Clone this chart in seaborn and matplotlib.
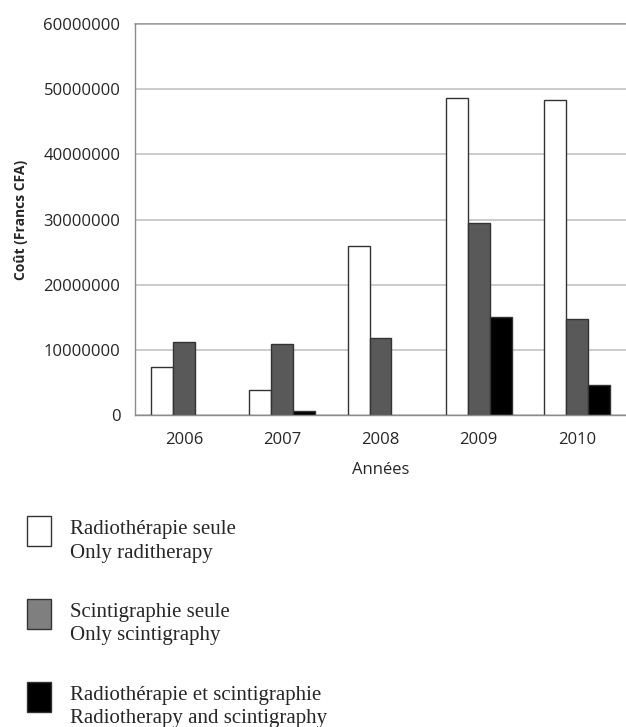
import matplotlib
matplotlib.use("Agg")
import matplotlib.pyplot as plt
import seaborn as sns
import pandas as pd
from matplotlib.ticker import FixedLocator
from matplotlib.legend_handler import HandlerPatch
from matplotlib.patches import Rectangle

years = ["2006", "2007", "2008", "2009", "2010"]
radio_only = [7400000, 3800000, 26000000, 48600000, 48400000]
scinti_only = [11250000, 10900000, 11800000, 29400000, 14700000]
radio_scinti = [0, 660000, 0, 15100000, 4600000]
series_labels = [
    "Radiothérapie seule\nOnly raditherapy",
    "Scintigraphie seule\nOnly scintigraphy",
    "Radiothérapie et scintigraphie\nRadiotherapy and scintigraphy",
]
colors = ["#ffffff", "#595959", "#000000"]

rows = []
for lab, vals in zip(series_labels, [radio_only, scinti_only, radio_scinti]):
    for y, v in zip(years, vals):
        rows.append({"Année": y, "Coût": v, "Série": lab})
df = pd.DataFrame(rows)

sns.set_style("white")
plt.rcParams["font.family"] = ["Open Sans", "DejaVu Sans"]

fig = plt.figure(figsize=(6.26, 7.27), dpi=100)
ax = fig.add_axes([135/626, 1-415/727, 1-135/626, (415-24)/727])

sns.barplot(data=df, x="Année", y="Coût", hue="Série", order=years,
            hue_order=series_labels, palette=colors, width=0.67,
            edgecolor="#333333", linewidth=1.0, ax=ax, legend=True, saturation=1)

handles, labels = ax.get_legend_handles_labels()
ax.get_legend().remove()

for p in ax.patches:
    if p.get_height() == 0:
        p.set_linewidth(0)

ax.set_ylim(0, 60000000)
ax.set_xlim(-0.5, 4.5)
ax.set_yticks(range(0, 60000001, 10000000))
ax.set_yticklabels([str(v) for v in range(0, 60000001, 10000000)])
ax.yaxis.grid(True, color="#bdbdbd", linewidth=1.1)
ax.set_axisbelow(True)
for s in ["right", "top"]:
    ax.spines[s].set_visible(False)
for s in ["left", "bottom"]:
    ax.spines[s].set_color("#8c8c8c")
    ax.spines[s].set_linewidth(1.0)
ax.axhline(60000000, color="#8c8c8c", linewidth=1.2, clip_on=False, zorder=0)

ax.tick_params(axis="y", which="major", length=3.5, color="#8c8c8c", labelsize=12, pad=7)
ax.tick_params(axis="x", which="major", length=0, labelsize=12, pad=12)
ax.xaxis.set_minor_locator(FixedLocator([0.5, 1.5, 2.5, 3.5]))
ax.tick_params(axis="x", which="minor", length=4, color="#8c8c8c", direction="out")

ax.set_xlabel("Années", fontsize=12, labelpad=10)
ax.set_ylabel("Coût (Francs CFA)", fontsize=10, fontweight="bold", labelpad=11)


def box_func(legend, orig_handle, xdescent, ydescent, width, height, fontsize):
    h = 21.6
    y0 = -ydescent + height + 9.4 - h
    return Rectangle((-xdescent, y0), width, h)


leg = fig.legend(handles, labels, loc="upper left", bbox_to_anchor=(19/626, 1-512/727),
                 frameon=False, prop={"family": "Liberation Serif", "size": 15},
                 handlelength=1.15, handleheight=1.44, handletextpad=0.9,
                 labelspacing=1.95, borderaxespad=0,
                 handler_map={h: HandlerPatch(patch_func=box_func) for h in handles})
for t in leg.get_texts():
    t.set_linespacing(1.3)
leg_colors = ["#ffffff", "#7f7f7f", "#000000"]
for h, c in zip(leg.legend_handles, leg_colors):
    h.set_visible(True)
    h.set_facecolor(c)
    h.set_edgecolor("#333333")
    h.set_linewidth(1.0)

fig.savefig("out.png", dpi=100)
